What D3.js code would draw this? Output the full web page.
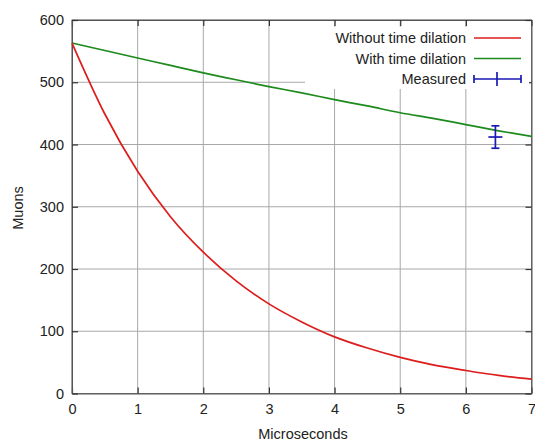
<!DOCTYPE html>
<html>
<head>
<meta charset="utf-8">
<script src="https://cdn.jsdelivr.net/npm/d3@7"></script>
<style>
  body { margin: 0; background: #fff; }
  svg { display: block; font-family: "Liberation Sans", Arial, sans-serif; }
</style>
</head>
<body>
<div class="container"></div>
<script>
const w = 535;
const h = 441;

// values
const timeUs = [0, 0.5, 1, 1.5, 2, 2.5, 3, 3.5, 4, 4.5, 5, 5.5, 6, 6.5, 7];
const withoutDilation = [563, 449, 357, 284, 227, 181, 144, 115, 91, 73, 58, 46, 37, 29, 23];
const withDilation = [563, 551, 539, 527, 515, 504, 493, 483, 472, 462, 451, 442, 432, 422, 413];
const measured = [{ t: 6.45, n: 412, err: 18 }];
const xTicks = [0, 1, 2, 3, 4, 5, 6, 7];
const yTicks = [0, 100, 200, 300, 400, 500, 600];

const padLeft = 72, padRight = 531.5, padTop = 20, padBottom = 393.5;
const fontSize = '14.5px';

const svg = d3.select('.container')
    .append('svg')
    .attr('width', w)
    .attr('height', h);

const xScale = d3.scaleLinear().domain([0, 7]).range([padLeft, padRight]);
const yScale = d3.scaleLinear().domain([0, 600]).range([padBottom, padTop]);

// grid
svg.append('g')
    .selectAll('line')
    .data(xTicks)
    .enter()
    .append('line')
    .attr('x1', d => xScale(d))
    .attr('x2', d => xScale(d))
    .attr('y1', padTop)
    .attr('y2', padBottom)
    .attr('stroke', '#a8a8a8')
    .attr('stroke-width', 1);

svg.append('g')
    .selectAll('line')
    .data(yTicks)
    .enter()
    .append('line')
    .attr('x1', padLeft)
    .attr('x2', padRight)
    .attr('y1', d => yScale(d))
    .attr('y2', d => yScale(d))
    .attr('stroke', '#a8a8a8')
    .attr('stroke-width', 1);

// frame
svg.append('rect')
    .attr('x', padLeft)
    .attr('y', padTop)
    .attr('width', padRight - padLeft)
    .attr('height', padBottom - padTop)
    .attr('fill', 'none')
    .attr('stroke', '#707070')
    .attr('stroke-width', 1);

// axes with inward ticks on all sides
const xAxis = svg.append('g')
    .attr('transform', `translate(0, ${padBottom})`)
    .call(d3.axisBottom(xScale).tickValues(xTicks).tickFormat(d3.format('d'))
        .tickSizeInner(-6).tickSizeOuter(0).tickPadding(10));
const xAxisTop = svg.append('g')
    .attr('transform', `translate(0, ${padTop})`)
    .call(d3.axisTop(xScale).tickValues(xTicks).tickSizeInner(-6).tickSizeOuter(0).tickFormat(''));
const yAxis = svg.append('g')
    .attr('transform', `translate(${padLeft}, 0)`)
    .call(d3.axisLeft(yScale).tickValues(yTicks).tickFormat(d3.format('d'))
        .tickSizeInner(-6).tickSizeOuter(0).tickPadding(8));
const yAxisRight = svg.append('g')
    .attr('transform', `translate(${padRight}, 0)`)
    .call(d3.axisRight(yScale).tickValues(yTicks).tickSizeInner(-6).tickSizeOuter(0).tickFormat(''));

[xAxis, xAxisTop, yAxis, yAxisRight].forEach(g => {
    g.select('.domain').attr('stroke', '#555');
    g.selectAll('.tick line').attr('stroke', '#333').attr('stroke-width', 1.2);
    g.selectAll('.tick text')
        .attr('fill', '#222')
        .style('font-size', fontSize)
        .style('font-family', '"Liberation Sans", Arial, sans-serif');
});

// curves
const line = d3.line()
    .x((d, i) => xScale(timeUs[i]))
    .y(d => yScale(d))
    .curve(d3.curveMonotoneX);

svg.append('path')
    .datum(withDilation)
    .attr('d', line)
    .attr('fill', 'none')
    .attr('stroke', '#1c8a1c')
    .attr('stroke-width', 1.7);

svg.append('path')
    .datum(withoutDilation)
    .attr('d', line)
    .attr('fill', 'none')
    .attr('stroke', '#dd1c1c')
    .attr('stroke-width', 1.7);

// legend (white box hides the grid behind it)
svg.append('rect')
    .attr('x', 305)
    .attr('y', 27)
    .attr('width', 224)
    .attr('height', 62)
    .attr('fill', '#fff');

const legendItems = [
    { label: 'Without time dilation', color: '#dd1c1c', kind: 'line' },
    { label: 'With time dilation', color: '#1c8a1c', kind: 'line' },
    { label: 'Measured', color: '#1a1ab4', kind: 'err' }
];

const legend = svg.selectAll('.legend')
    .data(legendItems)
    .enter()
    .append('g')
    .attr('class', 'legend')
    .attr('transform', (d, i) => `translate(0, ${38 + i * 20.5})`);

legend.append('text')
    .attr('x', 466)
    .attr('y', 0)
    .attr('dy', '0.35em')
    .attr('text-anchor', 'end')
    .style('font-size', fontSize)
    .attr('fill', '#222')
    .text(d => d.label);

legend.append('line')
    .attr('x1', 474)
    .attr('x2', 521)
    .attr('y1', 0)
    .attr('y2', 0)
    .attr('stroke', d => d.color)
    .attr('stroke-width', 1.7);

legend.filter(d => d.kind === 'err').each(function (d) {
    const g = d3.select(this);
    [[474, -4, 474, 4], [521, -4, 521, 4], [497, -7, 497, 7]].forEach(c => {
        g.append('line')
            .attr('x1', c[0]).attr('y1', c[1]).attr('x2', c[2]).attr('y2', c[3])
            .attr('stroke', d.color)
            .attr('stroke-width', 1.7);
    });
});

// measured point with error bars
const err = svg.selectAll('.measured')
    .data(measured)
    .enter()
    .append('g')
    .attr('class', 'measured')
    .attr('stroke', '#1a1ab4')
    .attr('stroke-width', 1.7);

err.append('line')
    .attr('x1', d => xScale(d.t)).attr('x2', d => xScale(d.t))
    .attr('y1', d => yScale(d.n + d.err)).attr('y2', d => yScale(d.n - d.err));
err.append('line')
    .attr('x1', d => xScale(d.t) - 4).attr('x2', d => xScale(d.t) + 4)
    .attr('y1', d => yScale(d.n + d.err)).attr('y2', d => yScale(d.n + d.err));
err.append('line')
    .attr('x1', d => xScale(d.t) - 4).attr('x2', d => xScale(d.t) + 4)
    .attr('y1', d => yScale(d.n - d.err)).attr('y2', d => yScale(d.n - d.err));
err.append('line')
    .attr('x1', d => xScale(d.t) - 7).attr('x2', d => xScale(d.t) + 7)
    .attr('y1', d => yScale(d.n)).attr('y2', d => yScale(d.n));

// axis titles
svg.append('text')
    .attr('x', 303)
    .attr('y', 439)
    .attr('text-anchor', 'middle')
    .style('font-size', fontSize)
    .attr('fill', '#222')
    .text('Microseconds');

svg.append('text')
    .attr('transform', 'translate(23, 208) rotate(-90)')
    .attr('text-anchor', 'middle')
    .style('font-size', fontSize)
    .attr('fill', '#222')
    .text('Muons');
</script>
</body>
</html>
